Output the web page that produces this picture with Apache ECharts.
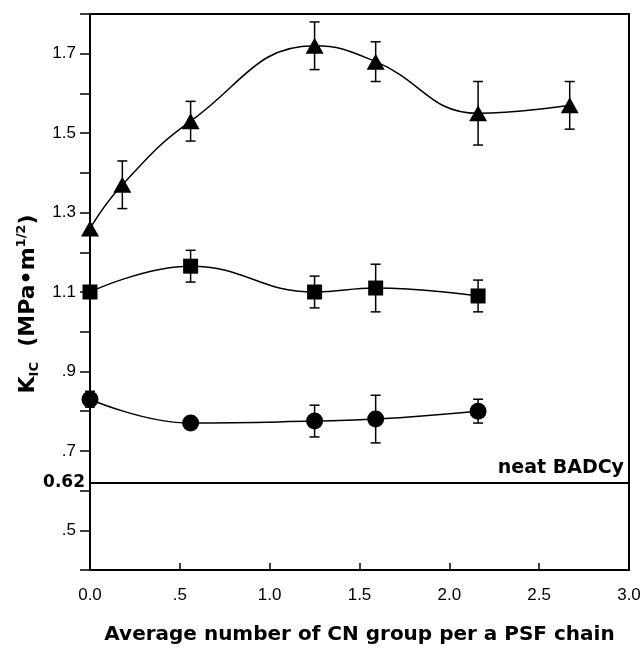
<!DOCTYPE html>
<html>
<head>
<meta charset="utf-8">
<script src="https://cdn.jsdelivr.net/npm/echarts@6/dist/echarts.min.js"></script>
<style>
  html, body { margin: 0; padding: 0; background: #fff; }
  #chart { width: 642px; height: 648px; }
</style>
</head>
<body>
<div id="chart"></div>
<script>
// triangles (top curve)
const xTri = [0.0, 0.18, 0.56, 1.25, 1.59, 2.16, 2.67];
const kTri = [1.26, 1.37, 1.53, 1.72, 1.68, 1.55, 1.57];
const errTri = [0, 0.06, 0.05, 0.06, 0.05, 0.08, 0.06];

// squares (middle curve)
const xSq = [0.0, 0.56, 1.25, 1.59, 2.16];
const kSq = [1.10, 1.165, 1.10, 1.11, 1.09];
const errSq = [0.015, 0.04, 0.04, 0.06, 0.04];

// circles (bottom curve)
const xCir = [0.0, 0.56, 1.25, 1.59, 2.16];
const kCir = [0.83, 0.77, 0.775, 0.78, 0.80];
const errCir = [0.02, 0.01, 0.04, 0.06, 0.03];

const neatValue = 0.62;

const font = '"Liberation Sans", Arial, Helvetica, sans-serif';
const boldFont = '"DejaVu Sans", "Liberation Sans", Arial, sans-serif';

function pts(xs, ys) {
    return xs.map((x, i) => [x, ys[i]]);
}

function bars(xs, ys, es) {
    let out = [];
    for (let i = 0; i < xs.length; i++) {
        if (es[i] > 0) out.push([xs[i], ys[i] - es[i], ys[i] + es[i]]);
    }
    return out;
}

function errRender(params, api) {
    const x = api.value(0);
    const top = api.coord([x, api.value(2)]);
    const bot = api.coord([x, api.value(1)]);
    const w = 5;
    const style = {stroke: '#000', lineWidth: 1.5};
    return {
        type: 'group',
        children: [
            {type: 'line', shape: {x1: top[0], y1: top[1], x2: bot[0], y2: bot[1]}, style: style},
            {type: 'line', shape: {x1: top[0] - w, y1: top[1], x2: top[0] + w, y2: top[1]}, style: style},
            {type: 'line', shape: {x1: bot[0] - w, y1: bot[1], x2: bot[0] + w, y2: bot[1]}, style: style}
        ]
    };
}

function lineSeries(name, data, symbol, size) {
    return {
        name: name,
        type: 'line',
        data: data,
        smooth: 0.45,
        symbol: symbol,
        symbolSize: size,
        z: 5,
        itemStyle: {color: '#000'},
        lineStyle: {color: '#000', width: 1.5}
    };
}

function errSeries(data) {
    return {type: 'custom', renderItem: errRender, data: data, z: 3, silent: true};
}

const myChart = echarts.init(document.getElementById('chart'));

const option = {
    animation: false,
    backgroundColor: '#fff',
    grid: {
        left: 90, right: 13, top: 14, bottom: 78,
        outerBoundsMode: 'none',
        containLabel: false,
        show: true, borderColor: '#000', borderWidth: 2
    },
    xAxis: {
        type: 'value',
        min: 0, max: 3, interval: 0.5,
        name: 'Average number of CN group per a PSF chain',
        nameLocation: 'middle',
        nameGap: 55,
        nameTextStyle: {fontFamily: boldFont, fontWeight: 'bold', fontSize: 20, color: '#000'},
        axisLine: {lineStyle: {color: '#000', width: 2}},
        axisTick: {inside: true, length: 7, lineStyle: {color: '#000', width: 1.5}},
        axisLabel: {
            fontFamily: font, fontSize: 17, color: '#000', margin: 17,
            formatter: v => v === 0 ? '0.0' : (v < 1 ? String(v).replace(/^0/, '') : v.toFixed(1))
        },
        splitLine: {show: false}
    },
    yAxis: {
        type: 'value',
        min: 0.4, max: 1.8, interval: 0.1,
        name: '{k|K}{sub|IC}{k|  (MPa\u2022m}{sup|1/2}{k|)}',
        nameLocation: 'middle',
        nameGap: 45,
        nameRotate: 90,
        nameTextStyle: {
            color: '#000',
            padding: [0, 24, 0, 0],
            rich: {
                k: {fontFamily: boldFont, fontWeight: 'bold', fontSize: 22, color: '#000', lineHeight: 26},
                sub: {fontFamily: boldFont, fontWeight: 'bold', fontSize: 13, color: '#000', verticalAlign: 'bottom', lineHeight: 26},
                sup: {fontFamily: boldFont, fontWeight: 'bold', fontSize: 13, color: '#000', verticalAlign: 'top', lineHeight: 26}
            }
        },
        axisLine: {lineStyle: {color: '#000', width: 2}},
        axisTick: {inside: false, length: 10, lineStyle: {color: '#000', width: 1.5}},
        axisLabel: {
            fontFamily: font, fontSize: 17, color: '#000', margin: 14,
            formatter: function (v) {
                const t = Math.round(v * 10);
                if (t % 2 !== 1) return '';
                return v < 1 ? (t / 10).toFixed(1).replace(/^0/, '') : (t / 10).toFixed(1);
            }
        },
        splitLine: {show: false}
    },
    series: [
        errSeries(bars(xTri, kTri, errTri)),
        errSeries(bars(xSq, kSq, errSq)),
        errSeries(bars(xCir, kCir, errCir)),
        lineSeries('tri', pts(xTri, kTri), 'triangle', [18, 16]),
        lineSeries('sq', pts(xSq, kSq), 'rect', 15),
        Object.assign(lineSeries('cir', pts(xCir, kCir), 'circle', 17), {
            markLine: {
                silent: true,
                symbol: 'none',
                lineStyle: {color: '#000', width: 2, type: 'solid'},
                data: [
                    {
                        yAxis: neatValue,
                        label: {
                            position: 'start', formatter: '0.62', distance: 5,
                            fontFamily: boldFont, fontWeight: 'bold', fontSize: 17, color: '#000'
                        }
                    },
                    {
                        yAxis: neatValue,
                        label: {
                            position: 'insideEndTop', formatter: 'neat BADCy', distance: 5,
                            fontFamily: boldFont, fontWeight: 'bold', fontSize: 19, color: '#000'
                        }
                    }
                ]
            }
        })
    ]
};

option && myChart.setOption(option);
</script>
</body>
</html>
